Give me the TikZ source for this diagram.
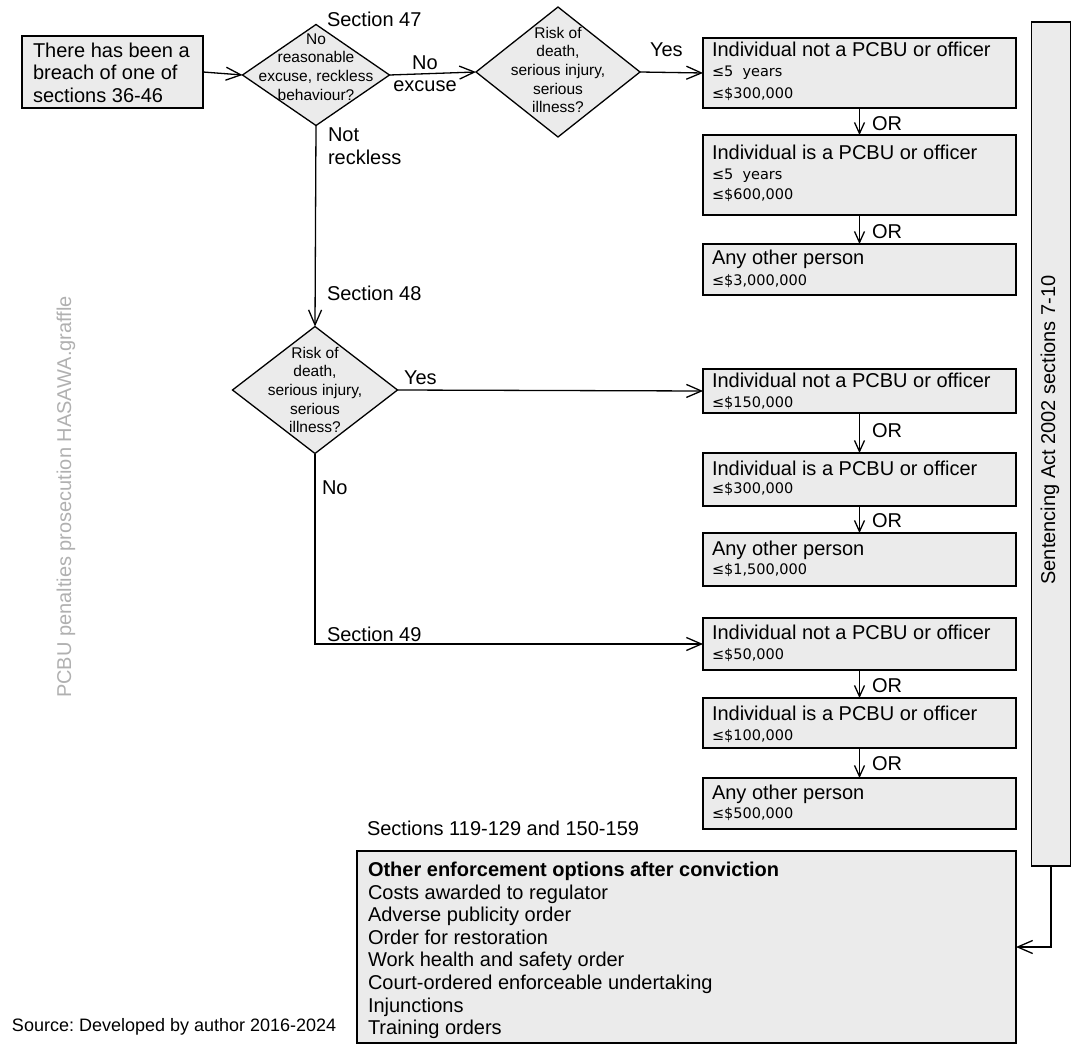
\documentclass[tikz,border=0pt]{standalone}
\usepackage{fontspec}
\setmainfont{Liberation Sans}
\newfontfamily\smallfont{DejaVu Sans}
\usetikzlibrary{arrows.meta,shapes.geometric}
\definecolor{boxfill}{HTML}{EBEBEB}
\definecolor{wm}{HTML}{B0B0B0}
\newcommand{\fsz}[1]{\fontsize{#1}{#1}\selectfont}
\frenchspacing
\begin{document}
\begin{tikzpicture}[x=1pt,y=-1pt,
  every node/.style={inner sep=0pt, outer sep=0pt},
  pbox/.style={draw, fill=boxfill, line width=1.6pt, minimum width=313pt},
  dia/.style={diamond, draw, fill=boxfill, line width=1.3pt, inner sep=0pt},
  conn/.style={line width=1.3pt, -{Straight Barb[length=15pt,width=13pt]}},
  orarr/.style={line width=1.3pt, -{Straight Barb[length=11pt,width=10pt]}},
  ttl/.style={anchor=base west, font=\fsz{20}},
  sml/.style={anchor=base west, font=\smallfont\fsz{14.5}},
  dtxt/.style={align=center, font=\fontsize{15.5}{18.7}\selectfont}]
\useasboundingbox (0,0) rectangle (1074,1046);

% start box
\node[draw, fill=boxfill, line width=1.6pt, minimum width=181pt, minimum height=72pt] (s) at (112.5,72) {};
\node[anchor=north west, align=left, font=\fontsize{20}{22.5}\selectfont] (st) at (33,43) {There has been a\\breach of one of\\sections 36-46};

% diamonds
\node[dia, minimum width=147pt, minimum height=101pt] (d1) at (316,75) {};
\node[dtxt] (d1t) at (316,67) {No\\reasonable\\excuse, reckless\\behaviour?};
\node[dia, minimum width=164pt, minimum height=130pt] (d2) at (558,72) {};
\node[dtxt] (d2t) at (558,70) {Risk of\\death,\\serious injury,\\serious\\illness?};
\node[dia, minimum width=165pt, minimum height=127pt] (d3) at (315,390) {};
\node[dtxt] (d3t) at (315,390) {Risk of\\death,\\serious injury,\\serious\\illness?};

% right boxes, section 47
\node[pbox, minimum height=70pt] (A1) at (859.5,73) {};
\node[ttl] (A1t) at (712,57) {Individual not a PCBU or officer};
\node[sml] (A1a) at (712,77) {≤5\ \ years};
\node[sml] (A1b) at (712,99) {≤\$300,000};
\node[pbox, minimum height=80pt] (A2) at (859.5,175) {};
\node[ttl] (A2t) at (712,160) {Individual is a PCBU or officer};
\node[sml] (A2a) at (712,179) {≤5\ \ years};
\node[sml] (A2b) at (712,200) {≤\$600,000};
\node[pbox, minimum height=51pt] (A3) at (859.5,269.5) {};
\node[ttl] (A3t) at (712,264) {Any other person};
\node[sml] (A3a) at (712,285) {≤\$3,000,000};

% section 48
\node[pbox, minimum height=44pt] (B1) at (859.5,391) {};
\node[ttl] (B1t) at (712,387) {Individual not a PCBU or officer};
\node[sml] (B1a) at (712,407) {≤\$150,000};
\node[pbox, minimum height=53pt] (B2) at (859.5,479.5) {};
\node[ttl] (B2t) at (712,475) {Individual is a PCBU or officer};
\node[sml] (B2a) at (712,493) {≤\$300,000};
\node[pbox, minimum height=53pt] (B3) at (859.5,559.5) {};
\node[ttl] (B3t) at (712,555) {Any other person};
\node[sml] (B3a) at (712,574) {≤\$1,500,000};

% section 49
\node[pbox, minimum height=52pt] (C1) at (859.5,644) {};
\node[ttl] (C1t) at (712,639) {Individual not a PCBU or officer};
\node[sml] (C1a) at (712,659) {≤\$50,000};
\node[pbox, minimum height=50pt] (C2) at (859.5,723) {};
\node[ttl] (C2t) at (712,720) {Individual is a PCBU or officer};
\node[sml] (C2a) at (712,740) {≤\$100,000};
\node[pbox, minimum height=51pt] (C3) at (859.5,803.5) {};
\node[ttl] (C3t) at (712,799) {Any other person};
\node[sml] (C3a) at (712,818) {≤\$500,000};

% sentencing bar
\node[draw, fill=boxfill, line width=1.3pt, minimum width=39pt, minimum height=844pt] (bar) at (1051,444) {};
\node[rotate=90, font=\fsz{20}] (bart) at (1050,430) {Sentencing Act 2002 sections 7-10};

% bottom box
\node[draw, fill=boxfill, line width=1.6pt, minimum width=659pt, minimum height=192pt] (E) at (686.5,947) {};
\node[anchor=north west, align=left, font=\fontsize{20}{22.6}\selectfont] (Et) at (368,862) {\textbf{Other enforcement options after conviction}\\Costs awarded to regulator\\Adverse publicity order\\Order for restoration\\Work health and safety order\\Court-ordered enforceable undertaking\\Injunctions\\Training orders};

% labels
\node[ttl] (l47) at (327,27) {Section 47};
\node[font=\fsz{20}] (lno) at (425,63) {No};
\node[font=\fsz{20}] (lexc) at (425,86) {excuse};
\node[ttl] (lyes1) at (650,57) {Yes};
\node[anchor=north west, align=left, font=\fontsize{20}{23}\selectfont] (lnr) at (328,128) {Not\\reckless};
\node[ttl] (l48) at (327,300) {Section 48};
\node[ttl] (lyes2) at (404,384) {Yes};
\node[ttl] (lno2) at (322,494) {No};
\node[ttl] (l49) at (327,641) {Section 49};
\node[ttl] (l119) at (367,835) {Sections 119-129 and 150-159};
\node[anchor=base west, font=\fsz{18}] (src) at (12,1031.5) {Source: Developed by author 2016-2024};
\node[rotate=90, font=\fsz{20}, text=wm] (wmk) at (66,497) {PCBU penalties prosecution HASAWA.graffle};

% OR labels
\node[ttl] (or1) at (872,131) {OR};
\node[ttl] (or2) at (872,238) {OR};
\node[ttl] (or3) at (872,437) {OR};
\node[ttl] (or4) at (872,527) {OR};
\node[ttl] (or5) at (872,692) {OR};
\node[ttl] (or6) at (872,770) {OR};

% connectors
\draw[conn] (s.east) -- (d1.west);
\draw[conn] (d1.east) -- (d2.west);
\draw[conn] (d2.east) -- (A1.west);
\draw[conn] (d1.south) -- (d3.north);
\draw[conn] (d3.east) -- (B1.west);
\draw[conn] (d3.south) |- (C1.west);
\draw[conn] (bar.south) |- (E.east);
\draw[orarr] (A1.south) -- (A2.north);
\draw[orarr] (A2.south) -- (A3.north);
\draw[orarr] (B1.south) -- (B2.north);
\draw[orarr] (B2.south) -- (B3.north);
\draw[orarr] (C1.south) -- (C2.north);
\draw[orarr] (C2.south) -- (C3.north);
\end{tikzpicture}
\end{document}
